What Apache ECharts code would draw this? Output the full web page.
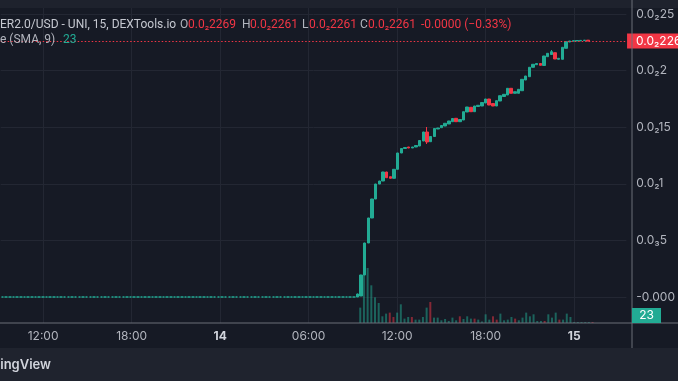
<!DOCTYPE html>
<html><head><meta charset="utf-8">
<script src="https://cdn.jsdelivr.net/npm/echarts@6/dist/echarts.min.js"></script>
<style>html,body{margin:0;padding:0;background:#161a25;}#c{width:678px;height:381px;}</style>
</head><body><div id="c"></div><script>
// ---- data ----
// 15-minute bars before trading started (flat price)
const flatPrice = [
0,0,0,0,0,0,0,0,0,0, 0,0,0,0,0,0,0,0,0,0, 0,0,0,0,0,0,0,0,0,0,
0,0,0,0,0,0,0,0,0,0, 0,0,0,0,0,0,0,0,0,0, 0,0,0,0,0,0,0,0,0,0,
0,0,0,0,0,0,0,0,0,0, 0,0,0,0,0,0,0,0,0,0, 0,0,0,0,0,0,0,0,0,0,
0,0,0,0,0,0,0];
const tradeOpen = [
0.0000000,0.0000088,0.0001943,0.0004770,0.0006979,0.0008657,0.0009982,0.0010247,0.0011042,0.0010627,
0.0010486,0.0011281,0.0012721,0.0013118,0.0013251,0.0013163,0.0013251,0.0013339,0.0013781,0.0014576,
0.0013719,0.0014178,0.0014841,0.0014956,0.0015106,0.0015283,0.0015486,0.0015786,0.0015486,0.0015636,
0.0016343,0.0016758,0.0016369,0.0016829,0.0016873,0.0017138,0.0017491,0.0017094,0.0016873,0.0017314,
0.0017712,0.0017845,0.0018436,0.0017995,0.0017995,0.0018224,0.0019170,0.0019461,0.0020292,0.0020521,
0.0020627,0.0020451,0.0021228,0.0021422,0.0021581,0.0020998,0.0020998,0.0021970,0.0022527,0.0022600,
0.0022620,0.0022630,0.0022650,0.0022690];
const tradeClose = [
0.0000265,0.0001943,0.0004770,0.0006979,0.0008657,0.0009982,0.0010247,0.0011042,0.0010539,0.0010486,
0.0011281,0.0012721,0.0013118,0.0013207,0.0013163,0.0013251,0.0013383,0.0013825,0.0014576,0.0013693,
0.0014178,0.0014885,0.0014929,0.0015150,0.0015345,0.0015548,0.0015768,0.0015486,0.0015680,0.0016369,
0.0016784,0.0016369,0.0016873,0.0016935,0.0017182,0.0017491,0.0016961,0.0016873,0.0017341,0.0017783,
0.0017906,0.0018436,0.0017995,0.0018136,0.0018348,0.0019231,0.0019523,0.0020292,0.0020557,0.0020627,
0.0020468,0.0021290,0.0021528,0.0021670,0.0021025,0.0021087,0.0022058,0.0022553,0.0022615,0.0022640,
0.0022660,0.0022670,0.0022690,0.0022610];
const tradeLow = [
0.0000000,0.0000088,0.0001943,0.0004770,0.0006970,0.0008650,0.0009970,0.0010240,0.0010520,0.0010470,
0.0010480,0.0011270,0.0012710,0.0013110,0.0013150,0.0013160,0.0013240,0.0013330,0.0013770,0.0013516,
0.0013710,0.0014170,0.0014830,0.0014950,0.0015100,0.0015280,0.0015480,0.0015480,0.0015480,0.0015630,
0.0016340,0.0016360,0.0016360,0.0016820,0.0016870,0.0017130,0.0016950,0.0016860,0.0016870,0.0017310,
0.0017710,0.0017840,0.0017990,0.0017990,0.0017990,0.0018220,0.0019160,0.0019460,0.0020290,0.0020520,
0.0020460,0.0020450,0.0021220,0.0021420,0.0021020,0.0020990,0.0020990,0.0021960,0.0022520,0.0022590,
0.0022610,0.0022620,0.0022640,0.0022610];
const tradeHigh = [
0.0000300,0.0001960,0.0004790,0.0006990,0.0008670,0.0009990,0.0010260,0.0011060,0.0011060,0.0010640,
0.0011290,0.0012730,0.0013130,0.0013220,0.0013260,0.0013260,0.0013390,0.0013830,0.0014590,0.0015018,
0.0014190,0.0014890,0.0014940,0.0015160,0.0015350,0.0015560,0.0015780,0.0015790,0.0015690,0.0016380,
0.0016790,0.0016770,0.0016880,0.0016940,0.0017190,0.0017500,0.0017500,0.0017100,0.0017350,0.0017790,
0.0017910,0.0018440,0.0018440,0.0018140,0.0018350,0.0019240,0.0019530,0.0020300,0.0020560,0.0020630,
0.0020630,0.0021300,0.0021530,0.0021820,0.0021590,0.0021090,0.0022060,0.0022560,0.0022620,0.0022650,
0.0022670,0.0022680,0.0022700,0.0022690];
const tradeVolume = [
354,1817,1265,867,591,460,154,216,239,138,
239,430,101,138,138,78,78,138,354,483,
124,124,62,92,46,124,62,154,92,154,
101,101,78,35,200,78,154,78,216,62,
78,138,101,62,124,239,154,200,46,46,
46,200,124,239,78,78,216,138,23,23,
23,23,23,23];
const priceTicks = [0, 0.0005, 0.001, 0.0015, 0.002, 0.0025];
const priceTickLabels = ['-0.000', '0.0₃5', '0.0₂1', '0.0₂15', '0.0₂2', '0.0₂25'];
const lastPrice = 0.002261;
const lastPriceLabel = '0.0₂2261';
const lastVolume = 23;
const barCount = 171;            // 15-minute slots shown, from 13 09:15
const startMinutes = 9 * 60 + 15;
const startDay = 13;

// ---- categories (15-min slots) ----
const categories = [];
for (let i = 0; i < barCount; i++) {
  const m = startMinutes + i * 15;
  const day = startDay + Math.floor(m / 1440);
  const t = m % 1440;
  const hh = String(Math.floor(t / 60)).padStart(2, '0');
  const mm = String(t % 60).padStart(2, '0');
  categories.push(day + ' ' + hh + ':' + mm);
}
const UP = '#22ab94', DOWN = '#f23645';
const candleData = flatPrice.map(v => ({
    value: [v, v, v, v],
    itemStyle: { color: UP, borderColor: UP, borderColorDoji: UP, borderWidth: 1.5 }
  })).concat(
  tradeOpen.map((o, i) => [o, tradeClose[i], tradeLow[i], tradeHigh[i]]));
const volumeData = flatPrice.map(() => null).concat(
  tradeVolume.map((v, i) => ({
    value: v,
    itemStyle: { color: tradeClose[i] >= tradeOpen[i] ? 'rgba(34,171,148,0.5)' : 'rgba(242,54,69,0.5)' }
  })));

function isMajor(idx) {
  const v = categories[idx];
  const t = v.split(' ')[1];
  const h = parseInt(t.slice(0, 2), 10);
  return t.slice(3) === '00' && h % 6 === 0;
}
const FONT = "Inter, 'Noto Sans', 'DejaVu Sans', sans-serif";
const LFONT = "Roboto, 'Noto Sans', sans-serif";
const GRAY = '#b2b5be';
const LEFT = 0.7, RIGHT = 678 - 631.3;

function legendText(x, y, text, fill) {
  return { type: 'text', x: x, y: y, z: 10, silent: true,
    style: { text: text, verticalAlign: 'middle', fill: fill, font: "12px " + LFONT } };
}

const chart = echarts.init(document.getElementById('c'));
chart.setOption({
  backgroundColor: '#161a25',
  animation: false,
  textStyle: { fontFamily: FONT },
  grid: [
    { left: LEFT, right: RIGHT, top: 14, bottom: 84 },
    { left: LEFT, right: RIGHT, top: 8, bottom: 58 }
  ],
  xAxis: [
    { type: 'category', gridIndex: 0, data: categories, show: false },
    { type: 'category', gridIndex: 1, data: categories,
      axisLine: { show: false }, axisTick: { show: false },
      axisLabel: {
        interval: (i) => isMajor(i), margin: 7, fontSize: 12, color: GRAY, fontFamily: FONT,
        formatter: (v) => {
          const t = v.split(' ')[1];
          return t === '00:00' ? '{b|' + v.split(' ')[0] + '}' : t;
        },
        rich: { b: { fontWeight: 'bold', fontSize: 12, color: '#d1d4dc', fontFamily: FONT } }
      },
      splitLine: { show: true, interval: (i) => isMajor(i), alignWithLabel: true,
        lineStyle: { color: '#232733', width: 1 } }
    }
  ],
  yAxis: [
    { type: 'value', gridIndex: 0, position: 'right', min: 0, max: 0.0025, interval: 0.0005,
      axisLine: { show: false }, axisTick: { show: false },
      axisLabel: { margin: 10, align: 'left', fontSize: 12, color: GRAY, fontFamily: FONT,
        formatter: (v) => priceTickLabels[Math.round(v / 0.0005)] },
      splitLine: { lineStyle: { color: '#232733', width: 1 } } },
    { type: 'value', gridIndex: 1, min: 0, max: 7245, show: false, splitLine: { show: false } }
  ],
  series: [
    { type: 'bar', xAxisIndex: 1, yAxisIndex: 1, data: volumeData, barWidth: 2, z: 1 },
    { type: 'candlestick', xAxisIndex: 0, yAxisIndex: 0, data: candleData, barWidth: 3, z: 3,
      itemStyle: { color: UP, color0: DOWN, borderColor: UP, borderColor0: DOWN, borderColorDoji: UP, borderWidth: 1 }
    },
    { type: 'line', xAxisIndex: 0, yAxisIndex: 0, data: [], z: 2, silent: true,
      markLine: {
        silent: true, symbol: ['none', 'none'], animation: false, precision: 7,
        data: [{ yAxis: lastPrice }],
        lineStyle: { color: DOWN, type: [1.5, 2], width: 1 },
        label: { show: true, position: 'end', distance: 0.7, formatter: lastPriceLabel,
          backgroundColor: DOWN, color: '#ffffff', fontSize: 12, fontFamily: FONT,
          padding: [1, 10, 1, 9], lineHeight: 13 }
      }
    }
  ],
  graphic: [
    { type: 'rect', shape: { x: 0, y: 0, width: 678, height: 8 }, style: { fill: '#1e222d' }, z: 0, silent: true },
    { type: 'rect', shape: { x: 0, y: 348, width: 678, height: 33 }, style: { fill: '#1f232e' }, z: 0, silent: true },
    { type: 'line', shape: { x1: 632, y1: 0, x2: 632, y2: 348 }, style: { stroke: '#6b6e79', lineWidth: 1 }, z: 10 },
    { type: 'line', shape: { x1: 0, y1: 323, x2: 678, y2: 323 }, style: { stroke: '#6b6e79', lineWidth: 1 }, z: 10 },
    { type: 'text', x: 51, y: 365, style: { text: 'TradingView', align: 'right', verticalAlign: 'middle', fill: '#d1d4dc', font: "600 13px " + FONT }, z: 10 },
    { type: 'rect', shape: { x: 632, y: 308, width: 29, height: 15 }, style: { fill: UP }, z: 10 },
    { type: 'text', x: 646.5, y: 315.5, style: { text: String(lastVolume), align: 'center', verticalAlign: 'middle', fill: '#ffffff', font: "12px " + FONT }, z: 11 },
    // legend
    legendText(0, 24.5, 'ER2.0/USD - UNI, 15, DEXTools.io', '#c5c8d0'),
    legendText(180, 24.5, 'O', GRAY),
    legendText(188, 24.5, '0.0₂2269', DOWN),
    legendText(242, 24.5, 'H', GRAY),
    legendText(250, 24.5, '0.0₂2261', DOWN),
    legendText(302, 24.5, 'L', GRAY),
    legendText(309, 24.5, '0.0₂2261', DOWN),
    legendText(360, 24.5, 'C', GRAY),
    legendText(368, 24.5, '0.0₂2261', DOWN),
    legendText(421, 24.5, '-0.0000 (−0.33%)', DOWN),
    legendText(0, 40, 'e (SMA, 9)', GRAY),
    legendText(63, 40, String(lastVolume), UP)
  ]
});
</script></body></html>
